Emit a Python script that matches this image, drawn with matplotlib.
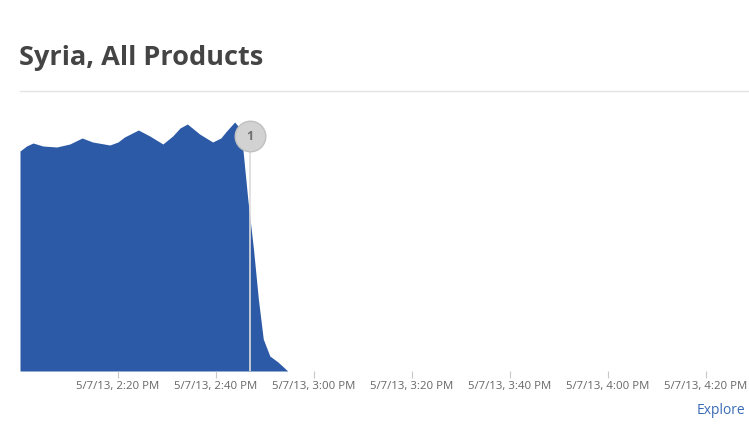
import numpy as np
import pandas as pd
import matplotlib
matplotlib.use("Agg")
import matplotlib.pyplot as plt
import matplotlib.dates as mdates

# traffic level (relative units)
times = ["14:00:00", "14:01:20", "14:02:40", "14:04:40", "14:07:30", "14:10:10",
         "14:12:40", "14:14:50", "14:18:20", "14:20:00", "14:21:20", "14:24:10",
         "14:26:30", "14:29:10", "14:31:10", "14:32:40", "14:34:10", "14:36:40",
         "14:39:20", "14:41:00", "14:42:10", "14:43:50", "14:44:30", "14:45:30",
         "14:46:30", "14:47:40", "14:48:40", "14:49:40", "14:51:00", "14:52:40",
         "14:54:40"]
traffic = [220, 225, 228, 225, 224, 227,
           233, 229, 226, 229, 234, 241,
           235, 227, 235, 243, 247, 237,
           229, 233, 240, 249, 245, 222,
           172, 122, 72, 32, 15, 9,
           0]

tick_times = ["14:20", "14:40", "15:00", "15:20", "15:40", "16:00", "16:20"]
tick_labels = ["5/7/13, 2:20 PM", "5/7/13, 2:40 PM", "5/7/13, 3:00 PM",
               "5/7/13, 3:20 PM", "5/7/13, 3:40 PM", "5/7/13, 4:00 PM",
               "5/7/13, 4:20 PM"]
event_time = "14:47:00"
event_level = 235

day = "2013-05-07 "
t = pd.to_datetime([day + s for s in times])
ticks = pd.to_datetime([day + s for s in tick_times])
ev = pd.to_datetime(day + event_time)

plt.rcParams["font.family"] = ["Open Sans", "DejaVu Sans"]

fig = plt.figure(figsize=(7.49, 4.27), dpi=100)
ax = fig.add_axes([20 / 749, 1 - 372 / 427, 729 / 749, 272 / 427])

ax.fill_between(t, traffic, 0, color="#2d5aa6", lw=0)
ax.set_xlim(pd.Timestamp(day + "14:00"), pd.Timestamp(day + "16:28:50"))
ax.set_ylim(0, 272)

ax.axvline(ev, ymin=0, ymax=event_level / 272, color="#dcdcdc", lw=1.2)
ax.plot([ev], [event_level], "o", ms=22, mfc="#d2d2d2", mec="#c0c0c0", mew=1)
ax.text(ev, event_level, "1", ha="center", va="center", fontsize=9,
        color="#707070", fontweight="bold")

ax.set_xticks(ticks)
ax.set_xticklabels(tick_labels)
ax.tick_params(axis="x", length=5, width=0.8, color="#c8c8c8", labelsize=8.2,
               labelcolor="#666666", pad=1.5)
ax.tick_params(axis="y", left=False, labelleft=False)
for s in ax.spines.values():
    s.set_visible(False)

fig.text(19 / 749, 1 - 58 / 427, "Syria, All Products", fontsize=19.5,
         fontweight="bold", color="#444444", va="center", ha="left")
fig.add_artist(plt.Line2D([20 / 749, 1], [1 - 92 / 427] * 2, color="#e3e3e3", lw=1))
fig.text(745 / 749, 1 - 411 / 427, "Explore", fontsize=10, color="#3a6bb5",
         ha="right", va="center")

fig.savefig("out.png", dpi=100)
